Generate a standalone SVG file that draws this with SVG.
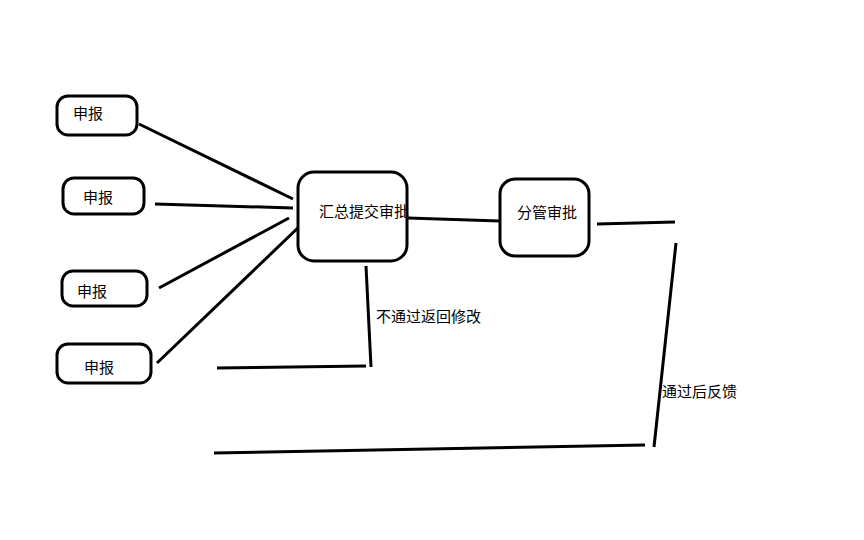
<svg xmlns="http://www.w3.org/2000/svg" width="864" height="540" viewBox="0 0 864 540">
<style>
.box{fill:#fff;stroke:#000;stroke-width:3}
.ln{fill:none;stroke:#000;stroke-width:3;stroke-linecap:butt}
text{font-family:"Microsoft YaHei","Noto Sans CJK SC",sans-serif;font-size:15px;fill:#000}
</style>
<rect width="864" height="540" fill="#fff"/>
<g id="connectors">
<line class="ln" x1="139" y1="124" x2="293" y2="199"/>
<line class="ln" x1="155" y1="204" x2="293" y2="208"/>
<line class="ln" x1="159" y1="288" x2="289" y2="218"/>
<line class="ln" x1="157" y1="363" x2="302" y2="224"/>
<line class="ln" x1="408" y1="218" x2="500" y2="221"/>
<line class="ln" x1="597" y1="224" x2="675" y2="222"/>
<line class="ln" x1="676" y1="243" x2="654" y2="447"/>
<line class="ln" x1="214" y1="453" x2="645" y2="445"/>
<line class="ln" x1="366" y1="266" x2="371" y2="367"/>
<line class="ln" x1="217" y1="368" x2="366" y2="366"/>
<text x="376" y="322">不通过返回修改</text>
<text x="662" y="397">通过后反馈</text>
</g>
<g id="node-sb1"><rect class="box" x="57" y="96" width="80" height="39" rx="11"/><text x="73" y="119">申报</text></g>
<g id="node-sb2"><rect class="box" x="63" y="178" width="81" height="36" rx="11"/><text x="83" y="203">申报</text></g>
<g id="node-sb3"><rect class="box" x="62" y="271" width="85" height="35" rx="11"/><text x="77" y="297">申报</text></g>
<g id="node-sb4"><rect class="box" x="57" y="344" width="94" height="39" rx="11"/><text x="84" y="373">申报</text></g>
<g id="node-hz"><rect class="box" x="298" y="172" width="109" height="89" rx="16"/><text x="319" y="217">汇总提交审批</text></g>
<g id="node-fg"><rect class="box" x="500" y="179" width="89" height="77" rx="15"/><text x="517" y="218">分管审批</text></g>
</svg>
